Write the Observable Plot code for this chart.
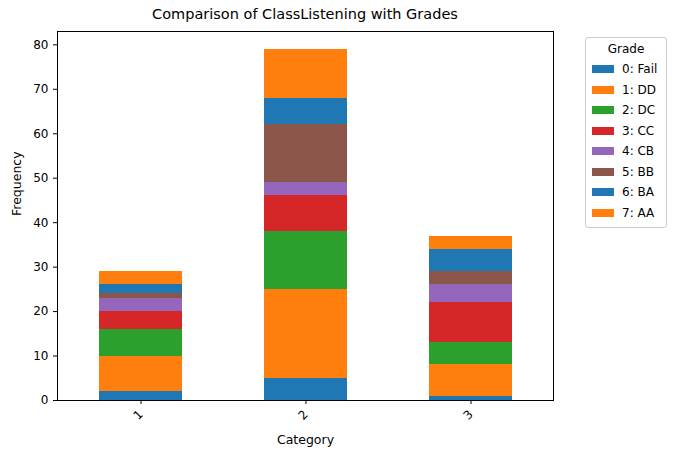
<!DOCTYPE html>
<html>
<head>
<meta charset="utf-8">
<script src="https://cdn.jsdelivr.net/npm/d3@7"></script>
<script src="https://cdn.jsdelivr.net/npm/@observablehq/plot@0.6"></script>
<style>
  body { margin: 0; font-family: "DejaVu Sans", sans-serif; background: #fff; }
  #wrap { position: relative; width: 685px; height: 455px; }
  #title { position: absolute; top: 6px; left: 57px; width: 496px; text-align: center; font-size: 14.5px; }
  #chart { position: absolute; top: 25px; left: 0; }
  #legend { position: absolute; left: 585px; top: 37px; width: 82px; border: 1px solid #ccc; border-radius: 3px;
            font-size: 12px; padding: 4px 0 4px 0; box-sizing: border-box; }
  #legend .t { text-align: center; margin-bottom: 3px; }
  #legend .row { display: flex; align-items: center; height: 20.5px; padding-left: 6px; }
  #legend .sw { width: 22px; height: 8px; margin-right: 8px; }
</style>
</head>
<body>
<div id="wrap">
  <div id="title">Comparison of ClassListening with Grades</div>
  <div id="chart"></div>
  <div id="legend"><div class="t">Grade</div></div>
</div>
<script>
const categories = ["1", "2", "3"];
const grades = ["0: Fail", "1: DD", "2: DC", "3: CC", "4: CB", "5: BB", "6: BA", "7: AA"];
const colors = ["#1f77b4", "#ff7f0e", "#2ca02c", "#d62728", "#9467bd", "#8c564b", "#1f77b4", "#ff7f0e"];
// counts per grade, one array per category
const counts = {
  "1": [2, 8, 6, 4, 3, 1, 2, 3],
  "2": [5, 20, 13, 8, 3, 13, 6, 11],
  "3": [1, 7, 5, 9, 4, 3, 5, 3]
};

const data = [];
for (const c of categories) {
  counts[c].forEach((v, i) => data.push({category: c, grade: grades[i], count: v}));
}

const plot = Plot.plot({
  width: 685,
  height: 430,
  marginLeft: 57,
  marginRight: 132,
  marginTop: 6,
  marginBottom: 55,
  style: {fontFamily: "DejaVu Sans, sans-serif", fontSize: "12px", color: "#000"},
  x: {domain: categories, paddingInner: 0.5, paddingOuter: 0.25, label: null},
  y: {domain: [0, 83], ticks: d3.range(0, 81, 10), label: null},
  color: {domain: grades, range: colors},
  marks: [
    Plot.barY(data, {x: "category", y: "count", fill: "grade", order: grades, shapeRendering: "crispEdges"}),
    Plot.frame({stroke: "#000"}),
    Plot.axisX({tickRotate: -45, tickSize: 4, fontSize: 12, label: null}),
    Plot.axisY({tickSize: 4, fontSize: 12, label: null}),
    Plot.text(["Category"], {frameAnchor: "bottom", dy: 43, fontSize: 12.5}),
    Plot.text(["Frequency"], {frameAnchor: "left", dx: -41, rotate: -90, fontSize: 12.5})
  ]
});
document.querySelector("#chart").append(plot);

const lg = document.querySelector("#legend");
grades.forEach((g, i) => {
  const r = document.createElement("div");
  r.className = "row";
  r.innerHTML = `<span class="sw" style="background:${colors[i]}"></span><span>${g}</span>`;
  lg.append(r);
});
</script>
</body>
</html>
